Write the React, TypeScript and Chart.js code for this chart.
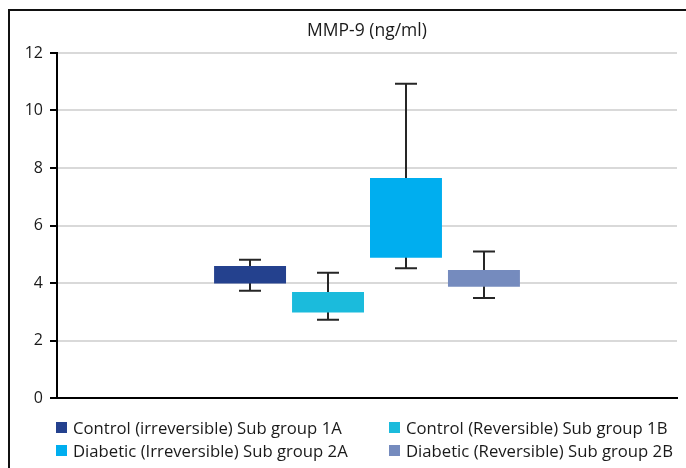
import React, { useEffect, useRef } from "react";
import { Chart, registerables } from "chart.js";

Chart.register(...registerables);

const categories = ["MMP-9 (ng/ml)"];
const seriesNames = [
  "Control (irreversible) Sub group 1A",
  "Control (Reversible) Sub group 1B",
  "Diabetic (Irreversible) Sub group 2A",
  "Diabetic (Reversible) Sub group 2B",
];
const boxLow = [3.98, 2.97, 4.88, 3.87];
const boxHigh = [4.59, 3.69, 7.65, 4.45];
const whiskerLow = [3.73, 2.72, 4.51, 3.48];
const whiskerHigh = [4.81, 4.36, 10.93, 5.1];
const seriesColors = ["#24418e", "#1bbbdc", "#00aeef", "#758bbe"];
const yMin = 0;
const yMax = 12;
const yStep = 2;

const FONT = "'Open Sans', sans-serif";
const TEXT = "#1a1a1a";

const whiskerPlugin = {
  id: "whiskers",
  beforeDatasetsDraw(chart: any) {
    const ctx = chart.ctx;
    const y = chart.scales.y;
    ctx.save();
    ctx.strokeStyle = "#262626";
    ctx.lineWidth = 2;
    chart.data.datasets.forEach((ds: any, i: number) => {
      const meta = chart.getDatasetMeta(i);
      meta.data.forEach((el: any, j: number) => {
        const x = Math.round(el.x);
        const lo = y.getPixelForValue(ds.whiskerLow[j]);
        const hi = y.getPixelForValue(ds.whiskerHigh[j]);
        const cap = 11;
        ctx.beginPath();
        ctx.moveTo(x, lo);
        ctx.lineTo(x, hi);
        ctx.moveTo(x - cap, hi);
        ctx.lineTo(x + cap, hi);
        ctx.moveTo(x - cap, lo);
        ctx.lineTo(x + cap, lo);
        ctx.stroke();
      });
    });
    ctx.restore();
  },
};

export default function App() {
  const ref = useRef<HTMLCanvasElement | null>(null);

  useEffect(() => {
    if (!ref.current) return;
    const chart = new Chart(ref.current, {
      type: "bar",
      data: {
        labels: categories,
        datasets: seriesNames.map((name, i) => ({
          label: name,
          data: [[boxLow[i], boxHigh[i]]] as any,
          backgroundColor: seriesColors[i],
          borderWidth: 0,
          categoryPercentage: 0.503,
          barPercentage: 0.923,
          whiskerLow: [whiskerLow[i]],
          whiskerHigh: [whiskerHigh[i]],
        })) as any,
      },
      options: {
        responsive: false,
        animation: false,
        layout: { padding: { left: 0, right: 9, top: 0, bottom: 70 } },
        plugins: {
          legend: { display: false },
          tooltip: { enabled: false },
          title: {
            display: true,
            fullSize: false,
            text: categories[0],
            color: TEXT,
            font: { family: FONT, size: 17.5, weight: "normal", lineHeight: 1.2 },
            padding: { top: 21, bottom: 11 },
          },
        },
        scales: {
          x: {
            ticks: { display: false },
            grid: { display: false, drawTicks: false },
            border: { display: true, color: "#000", width: 2 },
            afterFit(scale: any) {
              scale.height = 0;
            },
          },
          y: {
            min: yMin,
            max: yMax,
            ticks: {
              stepSize: yStep,
              color: TEXT,
              font: { family: FONT, size: 16 },
              padding: 7,
            },
            grid: {
              color: "#d9d9d9",
              lineWidth: 2,
              tickColor: "#000",
              tickWidth: 2,
              tickLength: 7,
            },
            border: { display: true, color: "#000", width: 2 },
            afterFit(scale: any) {
              scale.width = 57;
            },
          },
        },
      } as any,
      plugins: [whiskerPlugin],
    });
    return () => chart.destroy();
  }, []);

  const legendItem = (i: number, left: number, top: number) => (
    <div
      key={i}
      style={{
        position: "absolute",
        left,
        top,
        display: "flex",
        alignItems: "center",
        height: 20,
        whiteSpace: "nowrap",
      }}
    >
      <span
        style={{
          display: "inline-block",
          width: 11,
          height: 11,
          background: seriesColors[i],
          marginRight: 6,
        }}
      />
      <span style={{ font: `16.7px ${FONT}`, color: TEXT }}>{seriesNames[i]}</span>
    </div>
  );

  return (
    <div
      style={{
        position: "fixed",
        left: 0,
        top: 0,
        width: 686,
        height: 468,
        overflow: "hidden",
        background: "#fff",
      }}
    >
      <div
        style={{
          position: "absolute",
          left: 8,
          top: 9,
          width: 700,
          height: 480,
          borderLeft: "2px solid #111",
          borderTop: "2px solid #111",
        }}
      />
      <canvas
        ref={ref}
        width={686}
        height={468}
        style={{ position: "absolute", left: 0, top: 0, width: 686, height: 468 }}
      />
      {legendItem(0, 56, 417)}
      {legendItem(1, 389, 417)}
      {legendItem(2, 56, 440)}
      {legendItem(3, 389, 440)}
    </div>
  );
}
